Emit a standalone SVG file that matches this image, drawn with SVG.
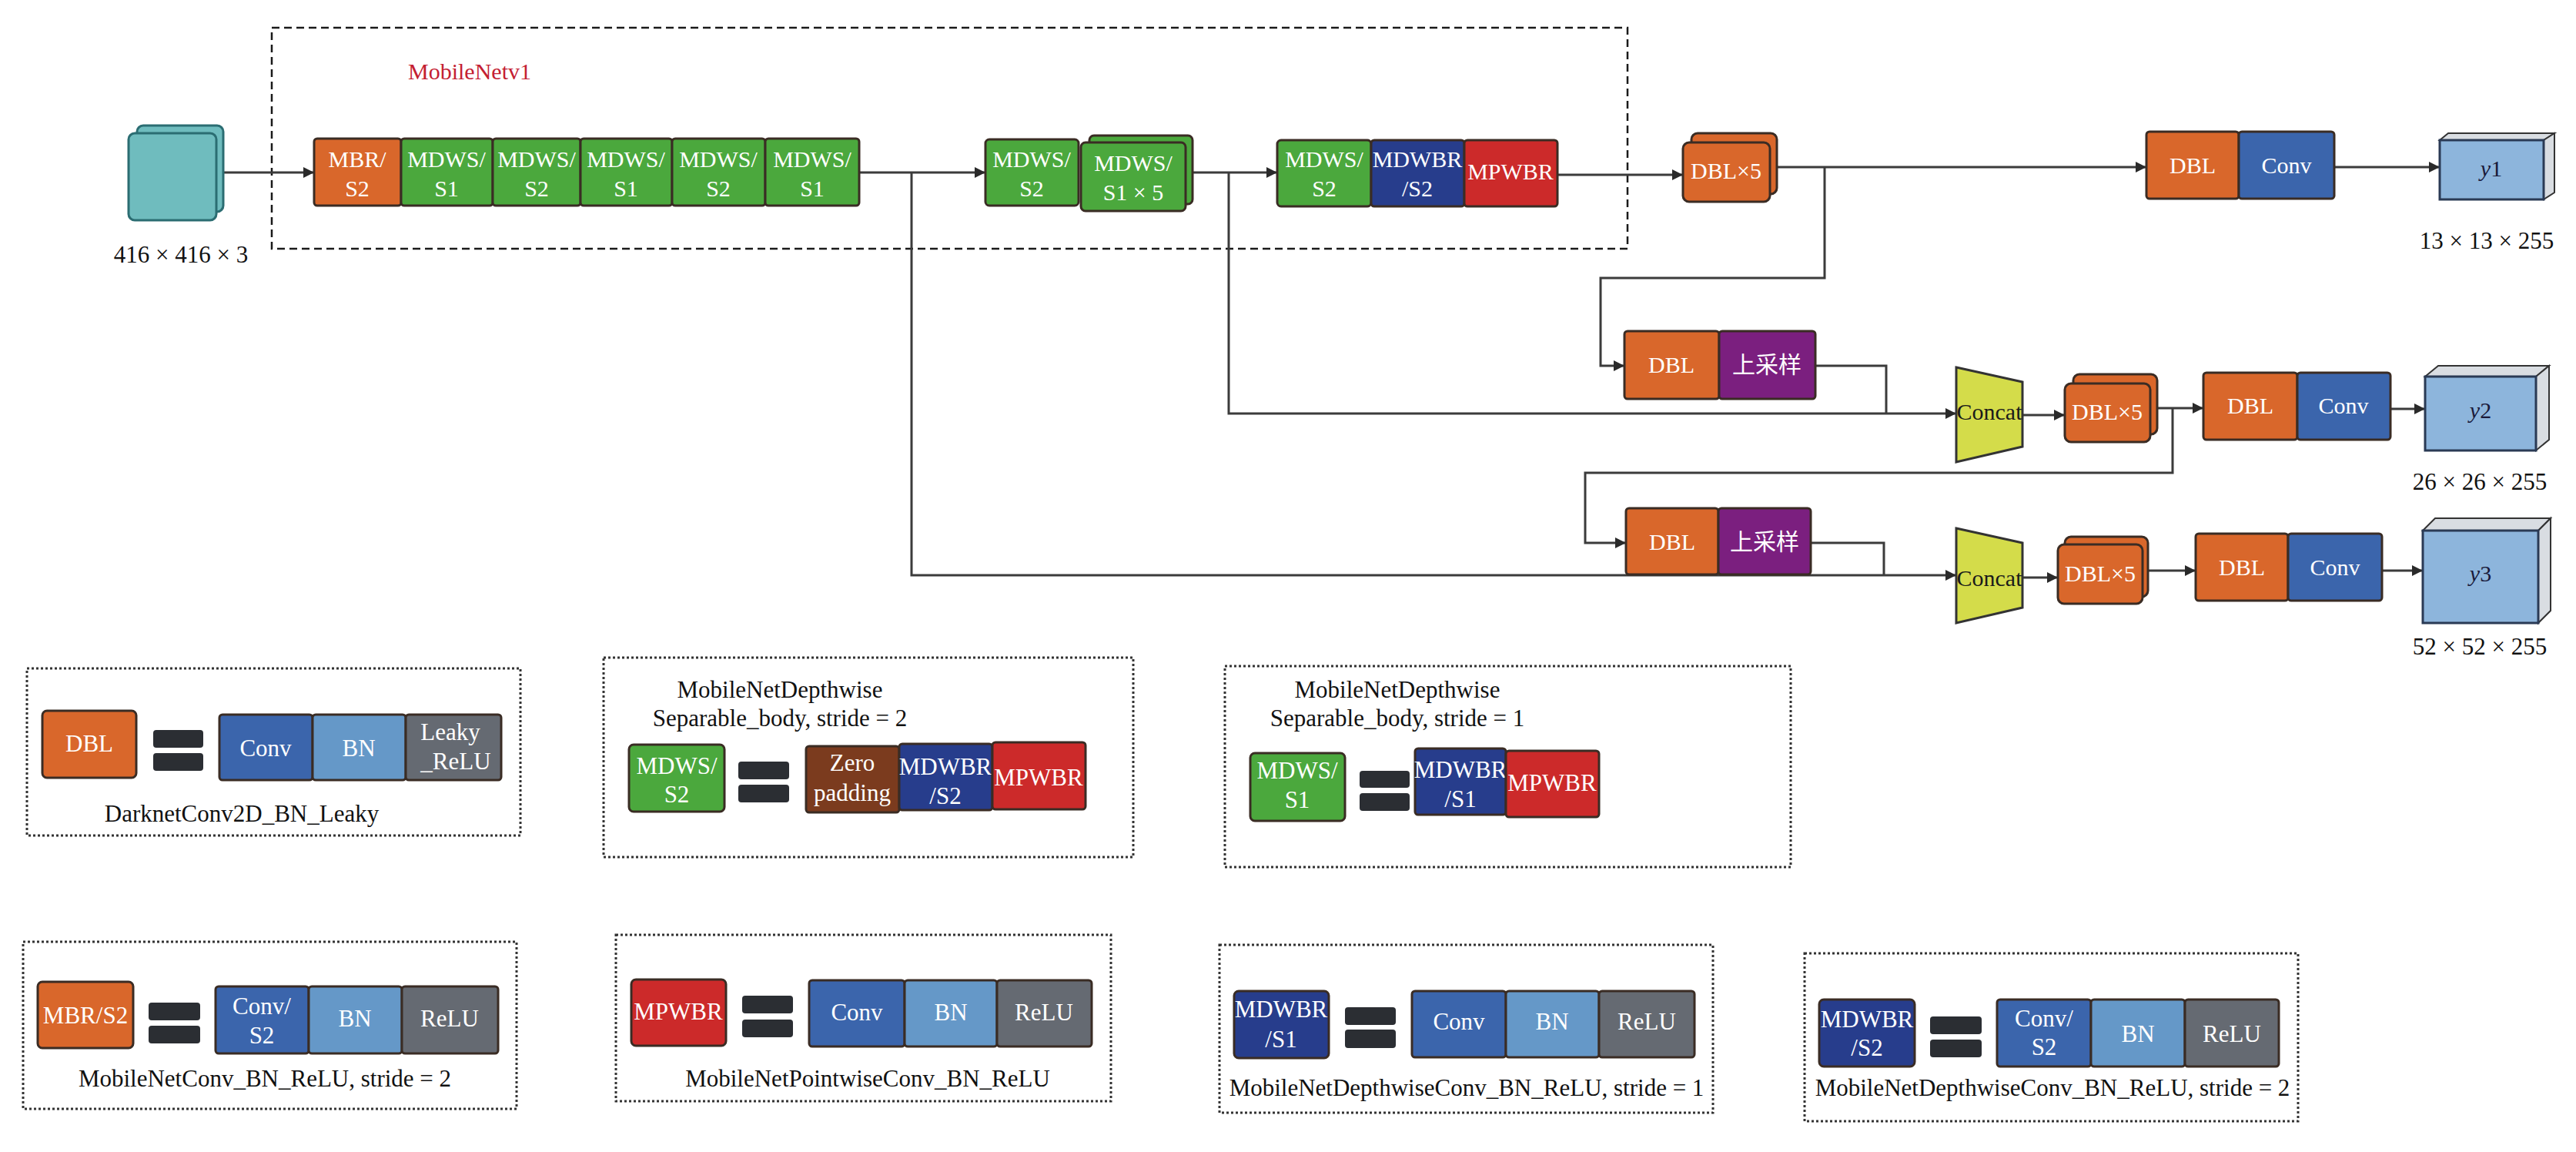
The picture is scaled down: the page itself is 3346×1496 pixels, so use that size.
<svg xmlns="http://www.w3.org/2000/svg" width="3346" height="1496" viewBox="0 0 3346 1496">
<style>
.b{stroke:#3a2c24;stroke-width:3}
.or{fill:#d9672b}.gr{fill:#4ba83d}.db{fill:#273d8c}.rd{fill:#cc2a2a}.cv{fill:#3b65ac}.bn{fill:#6598c8}.rl{fill:#656a72}.bw{fill:#7b3b1e}.pu{fill:#7b1f7f}
.t{font-family:"Liberation Serif","Times New Roman",serif;font-size:30px;fill:#ffffff;text-anchor:middle}
.lt{font-family:"Liberation Serif","Times New Roman",serif;font-size:31px;fill:#ffffff;text-anchor:middle}
.k{font-family:"Liberation Serif","Times New Roman",serif;font-size:31px;fill:#111111;text-anchor:middle}
.zh{font-family:"Noto Sans CJK SC","Noto Sans",sans-serif;font-size:30px;fill:#ffffff;text-anchor:middle}
.eq{fill:#2b2e33}
.box{fill:none;stroke:#333333;stroke-width:3;stroke-dasharray:3 3}
.c{fill:none;stroke:#3b3b3b;stroke-width:3}
.ca{fill:none;stroke:#3b3b3b;stroke-width:3;marker-end:url(#ah)}
</style>
<defs>
<marker id="ah" viewBox="0 0 10 10" markerUnits="userSpaceOnUse" markerWidth="14" markerHeight="14" refX="10" refY="5" orient="auto">
<path d="M0,0 L10,5 L0,10 z" fill="#2a2a2a"/>
</marker>
</defs>
<rect width="3346" height="1496" fill="#ffffff"/>

<g id="mobilenet-frame">
<rect x="353" y="36" width="1761" height="287" fill="none" stroke="#1a1a1a" stroke-width="2.5" stroke-dasharray="10 6"/>
<text x="530" y="103" style="font-family:'Liberation Serif',serif;font-size:30px;fill:#c42032">MobileNetv1</text>
</g>

<g id="connectors">
<path class="ca" d="M281,224 H408"/>
<path class="ca" d="M1116,224 H1280"/>
<path class="ca" d="M1549,224 H1659"/>
<path class="ca" d="M2023,227 H2186"/>
<path class="ca" d="M2308,217 H2788"/>
<path class="ca" d="M3032,217 H3169"/>
<path class="ca" d="M2370,217 V361 H2079 V475 H2110"/>
<path class="c" d="M2358,475 H2450 V537"/>
<path class="ca" d="M1596,224 V537 H2541"/>
<path class="ca" d="M2627,539 H2682"/>
<path class="ca" d="M2802,530 H2862"/>
<path class="ca" d="M3105,531 H3150"/>
<path class="ca" d="M2822,530 V614 H2059 V705 H2112"/>
<path class="c" d="M2352,705 H2447 V747"/>
<path class="ca" d="M1184,224 V747 H2541"/>
<path class="ca" d="M2627,750 H2673"/>
<path class="ca" d="M2790,741 H2852"/>
<path class="ca" d="M3094,741 H3147"/>
</g>

<g id="input">
<rect x="178" y="163" width="112" height="112" rx="8" fill="#6fbcbe" stroke="#2b6d72" stroke-width="3"/>
<rect x="167" y="173" width="114" height="113" rx="8" fill="#6fbcbe" stroke="#2b6d72" stroke-width="3"/>
<text class="k" x="235" y="341">416 × 416 × 3</text>
</g>

<g id="mbr_s2"><rect class="b or" x="408" y="180" width="113" height="87" rx="4"/><text class="t" x="464" y="217">MBR/</text><text class="t" x="464" y="255">S2</text></g>
<g id="mdws_s1_a"><rect class="b gr" x="521" y="180" width="119" height="87" rx="4"/><text class="t" x="580" y="217">MDWS/</text><text class="t" x="580" y="255">S1</text></g>
<g id="mdws_s2_a"><rect class="b gr" x="640" y="180" width="114" height="87" rx="4"/><text class="t" x="697" y="217">MDWS/</text><text class="t" x="697" y="255">S2</text></g>
<g id="mdws_s1_b"><rect class="b gr" x="754" y="180" width="119" height="87" rx="4"/><text class="t" x="813" y="217">MDWS/</text><text class="t" x="813" y="255">S1</text></g>
<g id="mdws_s2_b"><rect class="b gr" x="873" y="180" width="121" height="87" rx="4"/><text class="t" x="933" y="217">MDWS/</text><text class="t" x="933" y="255">S2</text></g>
<g id="mdws_s1_c"><rect class="b gr" x="994" y="180" width="122" height="87" rx="4"/><text class="t" x="1055" y="217">MDWS/</text><text class="t" x="1055" y="255">S1</text></g>

<g id="mdws_s2_c"><rect class="b gr" x="1280" y="181" width="121" height="86" rx="5"/><text class="t" x="1340" y="217">MDWS/</text><text class="t" x="1340" y="255">S2</text></g>
<g id="mdws_s1_x5"><rect class="b gr" x="1415" y="176" width="134" height="89" rx="6"/><rect class="b gr" x="1404" y="185" width="136" height="89" rx="6"/><text class="t" x="1472" y="222">MDWS/</text><text class="t" x="1472" y="260">S1 × 5</text></g>

<g id="mdws_s2_d"><rect class="b gr" x="1659" y="182" width="122" height="86" rx="5"/><text class="t" x="1720" y="217">MDWS/</text><text class="t" x="1720" y="255">S2</text></g>
<g id="mdwbr_s2"><rect class="b db" x="1781" y="182" width="121" height="86" rx="4"/><text class="t" x="1841" y="217">MDWBR</text><text class="t" x="1841" y="255">/S2</text></g>
<g id="mpwbr"><rect class="b rd" x="1902" y="182" width="121" height="86" rx="4"/><text class="t" x="1962" y="233">MPWBR</text></g>

<g id="dbl5_1"><rect class="b or" x="2197" y="173" width="111" height="79" rx="8"/><rect class="b or" x="2186" y="185" width="113" height="77" rx="8"/><text class="t" x="2242" y="232">DBL×5</text></g>
<g id="dbl_1"><rect class="b or" x="2788" y="171" width="120" height="87" rx="4"/><text class="t" x="2848" y="225">DBL</text></g>
<g id="conv_1"><rect class="b cv" x="2908" y="171" width="124" height="87" rx="4"/><text class="t" x="2970" y="225">Conv</text></g>
<g id="y1">
<path d="M3169,182 L3180,173 L3318,173 L3304,182 Z" fill="#d9dde2" stroke="#333" stroke-width="2"/>
<path d="M3304,182 L3318,173 L3318,250 L3304,259 Z" fill="#d9dde2" stroke="#333" stroke-width="2"/>
<rect x="3169" y="182" width="135" height="77" fill="#8db5dc" stroke="#2a3a55" stroke-width="3"/>
<text x="3236" y="229" style="font-family:'Liberation Serif',serif;font-size:30px;fill:#1a1a3a;text-anchor:middle"><tspan font-style="italic">y</tspan>1</text>
<text class="k" x="3230" y="323">13 × 13 × 255</text>
</g>

<g id="dbl_2"><rect class="b or" x="2110" y="430" width="123" height="88" rx="4"/><text class="t" x="2171" y="484">DBL</text></g>
<g id="upsample_2"><rect class="b pu" x="2233" y="430" width="125" height="88" rx="4"/><text class="zh" x="2295" y="484">上采样</text></g>
<g id="concat_2"><path d="M2541,477 L2627,496 L2627,580 L2541,600 Z" fill="#d4dc4a" stroke="#333" stroke-width="3"/><text x="2584" y="545" style="font-family:'Liberation Serif',serif;font-size:30px;fill:#1a1a1a;text-anchor:middle">Concat</text></g>
<g id="dbl5_2"><rect class="b or" x="2693" y="486" width="109" height="78" rx="8"/><rect class="b or" x="2682" y="498" width="111" height="76" rx="8"/><text class="t" x="2737" y="545">DBL×5</text></g>
<g id="dbl_3"><rect class="b or" x="2862" y="484" width="122" height="87" rx="4"/><text class="t" x="2923" y="537">DBL</text></g>
<g id="conv_2"><rect class="b cv" x="2984" y="484" width="121" height="87" rx="4"/><text class="t" x="3044" y="537">Conv</text></g>
<g id="y2">
<path d="M3150,489 L3167,475 L3311,475 L3294,489 Z" fill="#d9dde2" stroke="#333" stroke-width="2"/>
<path d="M3294,489 L3311,475 L3311,571 L3294,585 Z" fill="#d9dde2" stroke="#333" stroke-width="2"/>
<rect x="3150" y="489" width="144" height="96" fill="#8db5dc" stroke="#2a3a55" stroke-width="3"/>
<text x="3222" y="543" style="font-family:'Liberation Serif',serif;font-size:30px;fill:#1a1a3a;text-anchor:middle"><tspan font-style="italic">y</tspan>2</text>
<text class="k" x="3221" y="636">26 × 26 × 255</text>
</g>

<g id="dbl_4"><rect class="b or" x="2112" y="660" width="120" height="86" rx="4"/><text class="t" x="2172" y="714">DBL</text></g>
<g id="upsample_3"><rect class="b pu" x="2232" y="660" width="120" height="86" rx="4"/><text class="zh" x="2292" y="714">上采样</text></g>
<g id="concat_3"><path d="M2541,686 L2627,705 L2627,789 L2541,809 Z" fill="#d4dc4a" stroke="#333" stroke-width="3"/><text x="2584" y="761" style="font-family:'Liberation Serif',serif;font-size:30px;fill:#1a1a1a;text-anchor:middle">Concat</text></g>
<g id="dbl5_3"><rect class="b or" x="2682" y="697" width="108" height="78" rx="8"/><rect class="b or" x="2673" y="707" width="110" height="77" rx="8"/><text class="t" x="2728" y="755">DBL×5</text></g>
<g id="dbl_5"><rect class="b or" x="2852" y="693" width="120" height="87" rx="4"/><text class="t" x="2912" y="747">DBL</text></g>
<g id="conv_3"><rect class="b cv" x="2972" y="693" width="122" height="87" rx="4"/><text class="t" x="3033" y="747">Conv</text></g>
<g id="y3">
<path d="M3147,689 L3163,673 L3313,673 L3297,689 Z" fill="#d9dde2" stroke="#333" stroke-width="2"/>
<path d="M3297,689 L3313,673 L3313,793 L3297,809 Z" fill="#d9dde2" stroke="#333" stroke-width="2"/>
<rect x="3147" y="689" width="150" height="120" fill="#8db5dc" stroke="#2a3a55" stroke-width="3"/>
<text x="3222" y="755" style="font-family:'Liberation Serif',serif;font-size:30px;fill:#1a1a3a;text-anchor:middle"><tspan font-style="italic">y</tspan>3</text>
<text class="k" x="3221" y="850">52 × 52 × 255</text>
</g>

<!-- Legends -->
<g id="legend-dbl">
<rect class="box" x="35" y="868" width="641" height="217"/>
<rect class="b or" x="55" y="923" width="122" height="87" rx="6"/><text class="lt" x="116" y="976">DBL</text>
<rect class="eq" x="199" y="948" width="65" height="23" rx="4"/><rect class="eq" x="199" y="978" width="65" height="23" rx="4"/>
<rect class="b cv" x="285" y="928" width="121" height="85" rx="4"/><text class="lt" x="345" y="982">Conv</text>
<rect class="b bn" x="406" y="928" width="121" height="85" rx="4"/><text class="lt" x="466" y="982">BN</text>
<rect class="b rl" x="527" y="928" width="124" height="85" rx="4"/><text class="lt" x="585" y="961">Leaky</text><text class="lt" x="592" y="999">_ReLU</text>
<text class="k" x="314" y="1067">DarknetConv2D_BN_Leaky</text>
</g>

<g id="legend-mdws-s2">
<rect class="box" x="784" y="854" width="688" height="259"/>
<text class="k" x="1013" y="906">MobileNetDepthwise</text>
<text class="k" x="1013" y="943">Separable_body, stride = 2</text>
<rect class="b gr" x="817" y="967" width="124" height="87" rx="6"/><text class="lt" x="879" y="1005">MDWS/</text><text class="lt" x="879" y="1042">S2</text>
<rect class="eq" x="959" y="989" width="66" height="23" rx="4"/><rect class="eq" x="959" y="1019" width="66" height="23" rx="4"/>
<rect class="b bw" x="1047" y="969" width="121" height="86" rx="4"/><text class="lt" x="1107" y="1001">Zero</text><text class="lt" x="1107" y="1040">padding</text>
<rect class="b db" x="1168" y="966" width="121" height="86" rx="4"/><text class="lt" x="1228" y="1006">MDWBR</text><text class="lt" x="1228" y="1044">/S2</text>
<rect class="b rd" x="1289" y="964" width="121" height="87" rx="4"/><text class="lt" x="1349" y="1020">MPWBR</text>
</g>

<g id="legend-mdws-s1">
<rect class="box" x="1591" y="865" width="735" height="261"/>
<text class="k" x="1815" y="906">MobileNetDepthwise</text>
<text class="k" x="1815" y="943">Separable_body, stride = 1</text>
<rect class="b gr" x="1624" y="978" width="123" height="88" rx="6"/><text class="lt" x="1685" y="1011">MDWS/</text><text class="lt" x="1685" y="1049">S1</text>
<rect class="eq" x="1766" y="1001" width="65" height="22" rx="4"/><rect class="eq" x="1766" y="1030" width="65" height="23" rx="4"/>
<rect class="b db" x="1838" y="972" width="118" height="86" rx="4"/><text class="lt" x="1897" y="1010">MDWBR</text><text class="lt" x="1897" y="1048">/S1</text>
<rect class="b rd" x="1956" y="975" width="121" height="86" rx="4"/><text class="lt" x="2016" y="1027">MPWBR</text>
</g>

<g id="legend-mbr">
<rect class="box" x="30" y="1223" width="641" height="217"/>
<rect class="b or" x="49" y="1275" width="124" height="86" rx="6"/><text class="lt" x="111" y="1329">MBR/S2</text>
<rect class="eq" x="193" y="1302" width="67" height="23" rx="4"/><rect class="eq" x="193" y="1332" width="67" height="23" rx="4"/>
<rect class="b cv" x="280" y="1281" width="121" height="87" rx="4"/><text class="lt" x="340" y="1317">Conv/</text><text class="lt" x="340" y="1355">S2</text>
<rect class="b bn" x="401" y="1281" width="121" height="87" rx="4"/><text class="lt" x="461" y="1333">BN</text>
<rect class="b rl" x="522" y="1281" width="125" height="87" rx="4"/><text class="lt" x="584" y="1333">ReLU</text>
<text class="k" x="344" y="1411">MobileNetConv_BN_ReLU, stride = 2</text>
</g>

<g id="legend-mpwbr">
<rect class="box" x="800" y="1214" width="643" height="216"/>
<rect class="b rd" x="820" y="1272" width="123" height="86" rx="6"/><text class="lt" x="881" y="1324">MPWBR</text>
<rect class="eq" x="964" y="1293" width="66" height="23" rx="4"/><rect class="eq" x="964" y="1324" width="66" height="23" rx="4"/>
<rect class="b cv" x="1051" y="1273" width="124" height="86" rx="4"/><text class="lt" x="1113" y="1325">Conv</text>
<rect class="b bn" x="1175" y="1273" width="120" height="86" rx="4"/><text class="lt" x="1235" y="1325">BN</text>
<rect class="b rl" x="1295" y="1273" width="123" height="86" rx="4"/><text class="lt" x="1356" y="1325">ReLU</text>
<text class="k" x="1127" y="1411">MobileNetPointwiseConv_BN_ReLU</text>
</g>

<g id="legend-mdwbr-s1">
<rect class="box" x="1584" y="1227" width="641" height="218"/>
<rect class="b db" x="1603" y="1287" width="123" height="87" rx="6"/><text class="lt" x="1664" y="1321">MDWBR</text><text class="lt" x="1664" y="1360">/S1</text>
<rect class="eq" x="1747" y="1308" width="66" height="23" rx="4"/><rect class="eq" x="1747" y="1337" width="66" height="24" rx="4"/>
<rect class="b cv" x="1834" y="1287" width="122" height="86" rx="4"/><text class="lt" x="1895" y="1337">Conv</text>
<rect class="b bn" x="1956" y="1287" width="121" height="86" rx="4"/><text class="lt" x="2016" y="1337">BN</text>
<rect class="b rl" x="2077" y="1287" width="124" height="86" rx="4"/><text class="lt" x="2139" y="1337">ReLU</text>
<text class="k" x="1905" y="1423">MobileNetDepthwiseConv_BN_ReLU, stride = 1</text>
</g>

<g id="legend-mdwbr-s2">
<rect class="box" x="2344" y="1238" width="641" height="218"/>
<rect class="b db" x="2363" y="1298" width="124" height="87" rx="6"/><text class="lt" x="2425" y="1334">MDWBR</text><text class="lt" x="2425" y="1371">/S2</text>
<rect class="eq" x="2507" y="1320" width="67" height="23" rx="4"/><rect class="eq" x="2507" y="1350" width="67" height="23" rx="4"/>
<rect class="b cv" x="2594" y="1298" width="122" height="87" rx="4"/><text class="lt" x="2655" y="1333">Conv/</text><text class="lt" x="2655" y="1370">S2</text>
<rect class="b bn" x="2716" y="1298" width="122" height="87" rx="4"/><text class="lt" x="2777" y="1353">BN</text>
<rect class="b rl" x="2838" y="1298" width="122" height="87" rx="4"/><text class="lt" x="2899" y="1353">ReLU</text>
<text class="k" x="2666" y="1423">MobileNetDepthwiseConv_BN_ReLU, stride = 2</text>
</g>
</svg>
